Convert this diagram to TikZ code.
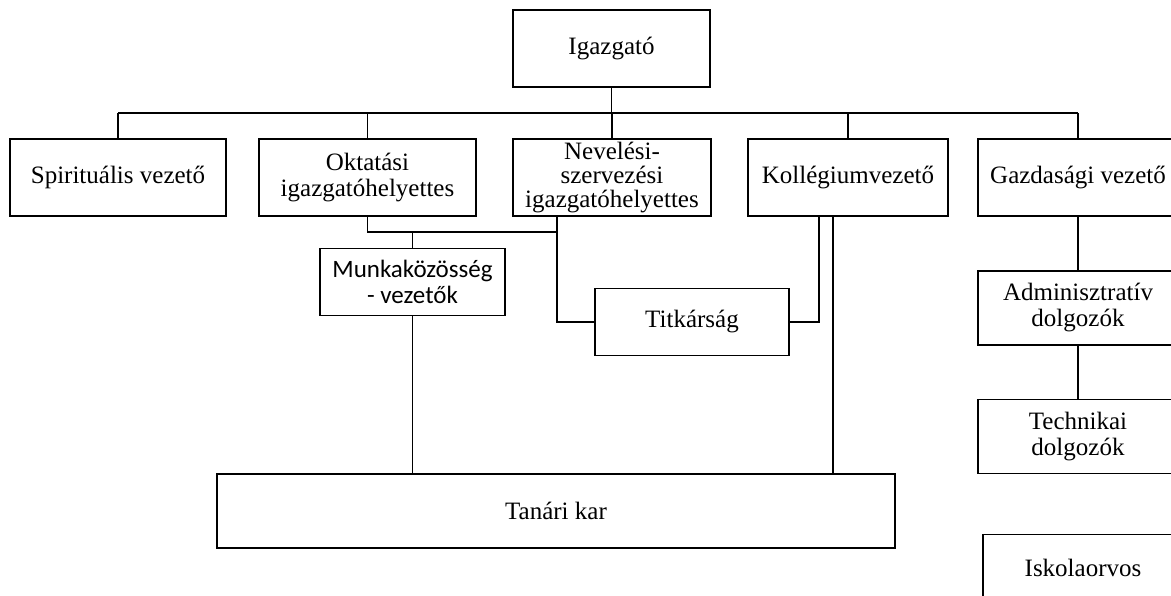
\documentclass[tikz,border=0pt]{standalone}
\usepackage{fontspec}
\setmainfont{Liberation Serif}
\newfontfamily\sansfont{Carlito}

\begin{document}
\begin{tikzpicture}[x=1pt,y=-1pt,line width=1.5pt]
    \tikzstyle{box}=[draw, rectangle, inner sep=0pt, align=center, font=\fontsize{25}{26}\selectfont, minimum height=77pt]
    \tikzstyle{low}=[style=box, minimum height=74pt]
    \tikzstyle{small}=[style=box, minimum height=67pt]

    \useasboundingbox (0,0) rectangle (1171,596);

    \node[box, minimum width=197pt] (ig)   at (611.5,48.5) {Igazgató};
    \node[box, minimum width=216pt] (spir) at (118,177.5)  {Spirituális vezető};
    \node[box, minimum width=217pt] (okt)  at (367.5,177.5) {Oktatási\\igazgatóhelyettes};
    \node[box, minimum width=198pt, font=\fontsize{25}{24}\selectfont]
                                    (nev)  at (612,177.5)  {Nevelési-\\szervezési\\igazgatóhelyettes};
    \node[box, minimum width=200pt] (koll) at (848,177.5)  {Kollégiumvezető};
    \node[box, minimum width=200pt] (gazd) at (1078,177.5) {Gazdasági vezető};
    \node[small, minimum width=185pt, font=\sansfont\fontsize{25}{26}\selectfont]
                                    (munka) at (412.5,282) {Munkaközösség\\- vezetők};
    \node[small, minimum width=194pt] (titk) at (692,322)  {Titkárság};
    \node[low, minimum width=200pt] (adm)  at (1078,308)   {Adminisztratív\\dolgozók};
    \node[low, minimum width=200pt] (tech) at (1078,436.5) {Technikai\\dolgozók};
    \node[low, minimum width=678pt] (tan)  at (556,511)    {Tanári kar};
    \node[small, minimum width=200pt] (isk) at (1083,568)  {Iskolaorvos};

    \coordinate (busL) at (118,113);
    \coordinate (busR) at (1078,113);
    \coordinate (join) at (557,232);

    % top level
    \draw (busL) -- (busR);
    \draw (ig) -- (ig |- busL);
    \draw (spir) -- (spir |- busL);
    \draw (okt) -- (okt |- busL);
    \draw (nev) -- (nev |- busL);
    \draw (koll) -- (koll |- busL);
    \draw (gazd) -- (gazd |- busL);

    % deputies
    \draw (okt.south) |- (join);
    \draw (munka) -- (munka |- join);
    \draw ([xshift=-55pt]nev.south) |- (titk.west);
    \draw (titk.east) -| ([xshift=-29pt]koll.south);
    \draw ([xshift=-15pt]koll.south) -- ([xshift=-15pt]koll.south |- tan.north);
    \draw (munka.south) -- (munka.south |- tan.north);

    % economic side
    \draw (gazd) -- (adm);
    \draw (adm) -- (tech);
\end{tikzpicture}
\end{document}
